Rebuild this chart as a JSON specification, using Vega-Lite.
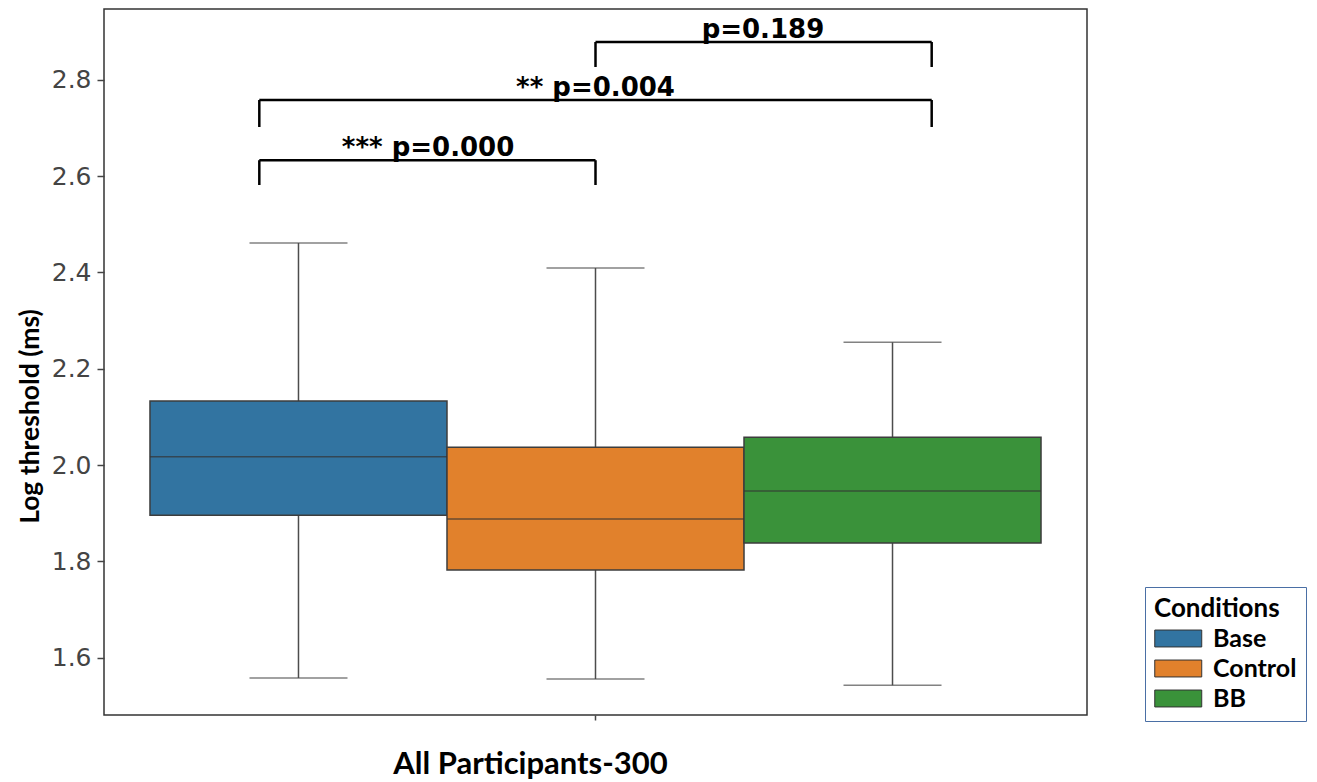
{
  "$schema": "https://vega.github.io/schema/vega-lite/v6.json",
  "width": 983,
  "height": 706,
  "autosize": {"type": "none"},
  "padding": {"left": 104, "top": 9, "right": 230, "bottom": 67},
  "background": "white",
  "config": {"view": {"stroke": "#333333", "strokeWidth": 1.5}},
  "layer": [
    {
      "data": {
        "values": [
          {"group": "All Participants-300", "condition": "Base", "min": 1.558, "q1": 1.896, "median": 2.017, "q3": 2.133, "max": 2.461},
          {"group": "All Participants-300", "condition": "Control", "min": 1.556, "q1": 1.782, "median": 1.888, "q3": 2.037, "max": 2.409},
          {"group": "All Participants-300", "condition": "BB", "min": 1.543, "q1": 1.838, "median": 1.946, "q3": 2.058, "max": 2.255}
        ]
      },
      "encoding": {
        "x": {
          "field": "group", "type": "nominal",
          "scale": {"paddingInner": 0, "paddingOuter": 0.0516},
          "axis": {
            "labels": false, "ticks": true, "tickSize": 5, "tickColor": "#444444", "tickWidth": 1.5,
            "domain": false, "grid": false,
            "title": "All Participants-300", "titleFont": "Lato", "titleFontSize": 31, "titleFontWeight": "bold",
            "titleColor": "black", "titleX": 426, "titleY": 58, "titleBaseline": "alphabetic"
          }
        },
        "xOffset": {
          "field": "condition", "type": "nominal", "sort": ["Base", "Control", "BB"],
          "scale": {"paddingInner": 0, "paddingOuter": 0}
        },
        "y": {"field": "min", "type": "quantitative",
          "scale": {"domain": [1.481, 2.947], "nice": false, "zero": false},
          "axis": {
            "values": [1.6, 1.8, 2.0, 2.2, 2.4, 2.6, 2.8], "format": ".1f",
            "labelFont": "DejaVu Sans", "labelFontSize": 25, "labelColor": "#444444", "labelPadding": 6,
            "tickSize": 7, "tickColor": "#444444", "tickWidth": 1.5, "domain": false, "grid": false,
            "title": "Log threshold (ms)", "titleFont": "Lato", "titleFontSize": 26.5, "titleFontWeight": "bold",
            "titleColor": "black", "titleX": -74, "titleY": 407, "titleBaseline": "middle"
          }
        }
      },
      "layer": [
        {
          "mark": {"type": "rule", "color": "#4d4d4d", "strokeWidth": 1.5},
          "encoding": {"y2": {"field": "max"}}
        },
        {
          "mark": {"type": "bar", "stroke": "#3d3d3d", "strokeWidth": 1.5},
          "encoding": {
            "y": {"field": "q1", "type": "quantitative"},
            "y2": {"field": "q3"},
            "fill": {
              "field": "condition", "type": "nominal",
              "scale": {"domain": ["Base", "Control", "BB"], "range": ["#3274a1", "#e1812c", "#3a923a"]},
              "legend": {
                "orient": "none", "legendX": 1041, "legendY": 578,
                "title": "Conditions", "titleFont": "Lato", "titleFontSize": 26, "titleFontWeight": "bold", "titleColor": "black", "titlePadding": 4,
                "labelFont": "Lato", "labelFontSize": 25, "labelFontWeight": "bold", "labelColor": "black",
                "labelExpr": "datum.label == 'BB' ? '\u00a0\u00a0BB' : datum.label",
                "symbolType": "M-1,-0.72H3V0.72H-1Z", "symbolSize": 552, "symbolStrokeColor": "#333333", "symbolStrokeWidth": 1,
                "symbolOffset": 0, "labelOffset": 34, "rowPadding": 4,
                "strokeColor": "#4a6fa5", "padding": 9
              }
            }
          }
        },
        {
          "mark": {"type": "tick", "color": "#333333", "size": 297, "thickness": 1.5},
          "encoding": {"y": {"field": "median", "type": "quantitative"}}
        },
        {
          "mark": {"type": "tick", "color": "#4d4d4d", "size": 98, "thickness": 1.5},
          "encoding": {"y": {"field": "min", "type": "quantitative"}}
        },
        {
          "mark": {"type": "tick", "color": "#4d4d4d", "size": 98, "thickness": 1.5},
          "encoding": {"y": {"field": "max", "type": "quantitative"}}
        }
      ]
    },
    {
      "data": {
        "values": [
          {"x1": -1.026, "x2": 0, "y1": 2.633, "y2": 2.633},
          {"x1": -1.026, "x2": -1.026, "y1": 2.633, "y2": 2.5815},
          {"x1": 0, "x2": 0, "y1": 2.633, "y2": 2.5815},
          {"x1": -1.026, "x2": 1.026, "y1": 2.758, "y2": 2.758},
          {"x1": -1.026, "x2": -1.026, "y1": 2.758, "y2": 2.702},
          {"x1": 1.026, "x2": 1.026, "y1": 2.758, "y2": 2.702},
          {"x1": 0, "x2": 1.026, "y1": 2.8785, "y2": 2.8785},
          {"x1": 0, "x2": 0, "y1": 2.8785, "y2": 2.8266},
          {"x1": 1.026, "x2": 1.026, "y1": 2.8785, "y2": 2.8266}
        ]
      },
      "mark": {"type": "rule", "color": "black", "strokeWidth": 2.5},
      "encoding": {
        "x": {"field": "x1", "type": "quantitative", "scale": {"domain": [-1.5, 1.5], "nice": false, "zero": false}, "axis": null},
        "x2": {"field": "x2"},
        "y": {"field": "y1", "type": "quantitative", "title": "Log threshold (ms)"},
        "y2": {"field": "y2"}
      }
    },
    {
      "data": {
        "values": [
          {"label": "*** p=0.000", "x": -0.511, "y": 2.633},
          {"label": "** p=0.004", "x": 0, "y": 2.758},
          {"label": "p=0.189", "x": 0.511, "y": 2.8785}
        ]
      },
      "mark": {"type": "text", "font": "DejaVu Sans", "fontWeight": "bold", "fontSize": 26, "color": "black", "align": "center", "baseline": "alphabetic", "dy": -4},
      "encoding": {
        "x": {"field": "x", "type": "quantitative", "scale": {"domain": [-1.5, 1.5], "nice": false, "zero": false}, "axis": null},
        "y": {"field": "y", "type": "quantitative", "title": "Log threshold (ms)"},
        "text": {"field": "label"}
      }
    }
  ],
  "resolve": {"scale": {"x": "independent"}}
}
